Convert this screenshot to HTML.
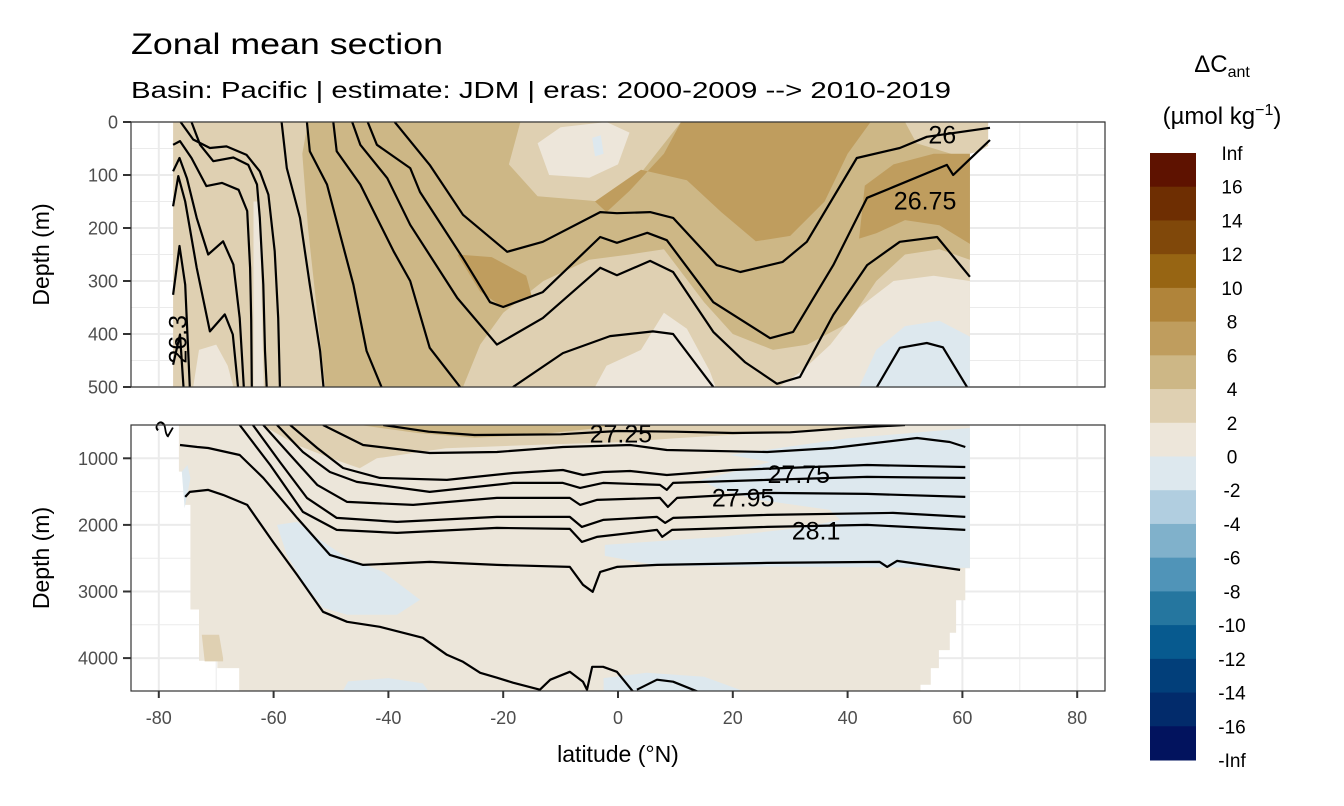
<!DOCTYPE html>
<html><head><meta charset="utf-8"><style>
html,body{margin:0;padding:0;background:#fff;}
svg{display:block;font-family:"Liberation Sans",Arial,sans-serif;}
</style></head><body>
<svg id="chart" width="1344" height="806" viewBox="0 0 1344 806" xmlns="http://www.w3.org/2000/svg">
<defs>
<clipPath id="clipT"><rect x="131" y="122" width="974" height="265"/></clipPath>
<clipPath id="clipB"><rect x="131" y="425" width="974" height="266"/></clipPath>
</defs>
<rect x="0" y="0" width="1344" height="806" fill="#fff"/>
<text x="131" y="54" font-size="30" fill="#000" textLength="312" lengthAdjust="spacingAndGlyphs">Zonal mean section</text>
<text x="131" y="98" font-size="23" fill="#000" textLength="820" lengthAdjust="spacingAndGlyphs">Basin: Pacific | estimate: JDM  | eras: 2000-2009 --&gt; 2010-2019</text>
<g id="panelTop"></g>
<g id="panelBot"></g>
<g id="axes"></g>
<g id="legend"></g>
</svg>
<script>
// ---------- data ----------
const xTicks = [-80,-60,-40,-20,0,20,40,60,80];
const yTicksTop = [0,100,200,300,400,500];
const yTicksBot = [1000,2000,3000,4000];
const legendLabels = ["Inf","16","14","12","10","8","6","4","2","0","-2","-4","-6","-8","-10","-12","-14","-16","-Inf"];
const legendColors = ["#5e1200","#6e2e02","#80480a","#976513","#b0843a","#bf9d5e","#cdb786","#dfd0b2","#ede6da","#dde8ee","#b1cee0","#80b1cb","#5094b8","#25769f","#075a8f","#023f7a","#022b6b","#02135e"];

// fill regions [lat, depth]
const topDomain = [[-77.5,0],[64.5,0],[64.5,45],[63,55],[61.3,60],[61.3,500],[-77.5,500]];
const topFill46 = [[-54,0],[-17,0],[-19,80],[-14,140],[-3,150],[3,110],[11,0],[50,0],[52,40],[58,60],[61.3,80],[61.3,260],[56,240],[50,250],[45,300],[40,380],[33,420],[27,430],[20,400],[15,340],[8,240],[2,250],[-5,260],[-13,300],[-20,360],[-24,420],[-27,500],[-51,500],[-52,400],[-54,200],[-55,60]];
const topFill68a = [[11,0],[44,0],[40,60],[36,150],[30,215],[24,225],[18,170],[12,110],[4,90],[-4,150],[-2,170],[2,130],[8,60]];
const topFill68b = [[43,120],[48,80],[55,60],[61.3,60],[61.3,230],[56,195],[50,185],[45,210],[42,220]];
const topFill68c = [[-28,250],[-22,255],[-16,290],[-15,330],[-20,350],[-24,320]];
const topFill02a = [[-14,40],[-10,10],[-2,0],[2,20],[0,80],[-5,105],[-12,100]];
const topFill02b = [[-4,500],[-2,460],[4,430],[8,360],[12,390],[16,470],[17,500]];
const topFill02c = [[28,500],[32,470],[37,420],[42,350],[48,300],[55,290],[61.3,300],[61.3,500]];
const topFill02d = [[-63.5,150],[-62.5,150],[-61.7,500],[-63.5,500]];
const topFill02e = [[-74,500],[-73,430],[-70,420],[-68,460],[-67,500]];
const topFillNeg = [[42,500],[45,430],[50,385],[56,375],[61.3,405],[61.3,500]];
const topFillNeg2 = [[-4.5,30],[-3,25],[-2.5,60],[-4,65]];

const botDomain = [[-76.5,500],[61.3,500],[61.3,2650],[60.5,2650],[60.5,3130],[58.9,3130],[58.9,3620],[57.8,3620],[57.8,3880],[55.9,3880],[55.9,4150],[54.5,4150],[54.5,4400],[52.7,4400],[52.7,4500],[-66,4500],[-66,4150],[-69.8,4150],[-69.8,4040],[-73,4040],[-73,3270],[-74.5,3270],[-74.5,1700],[-75.5,1700],[-75.5,1200],[-76.5,1200]];
const botFill24 = [[-62,500],[-56,800],[-50,1000],[-45,1150],[-42,1000],[-30,850],[-15,800],[0,760],[10,700],[25,620],[40,560],[50,500]];
const botFill46 = [[-45,500],[-35,620],[-25,690],[-15,650],[-5,560],[0,500]];
const botFill24b = [[-72.5,3650],[-69.5,3650],[-68.8,4000],[-68.8,4050],[-72,4050]];
const botNegA = [[-59.4,2000],[-55.9,1955],[-52.4,2195],[-47.2,2495],[-40.9,2705],[-34.5,3125],[-38.5,3350],[-47.2,3350],[-51.4,3245],[-54.9,2855],[-57.7,2450]];
const botNegB = [[19.5,950],[40,700],[61.3,545],[61.3,2645],[7.3,2615],[-2.3,2465],[-2.3,2300],[17.8,2180],[31.7,2045],[38.7,1925],[36.9,1775],[24.7,1625],[17.8,1475],[14.3,1325],[21.3,1175],[26.5,1055]];
const botNegC = [[-2.5,4300],[5,4220],[15,4280],[22,4500],[-2.5,4500]];
const botNegD = [[-47,4350],[-40,4300],[-34,4380],[-33,4500],[-48,4500]];
const botNegE = [[-76,1200],[-75,1100],[-74.5,1300],[-75.5,1750]];

// contour lines [lat, depth]
const topLines = [
 [[-77.5,458],[-76.3,401],[-75.7,500]],
 [[-77.5,326],[-76.4,234],[-75.4,307],[-74.6,500]],
 [[-77.5,159],[-76.6,102],[-75.4,150],[-73.4,275],[-71.1,395],[-68.5,363],[-67.1,401],[-66.2,500]],
 [[-77.5,93],[-76.4,68],[-75.1,106],[-73.4,181],[-71.4,250],[-68.8,225],[-67.0,269],[-65.9,370],[-65.2,500]],
 [[-77.5,43],[-76.3,36],[-74.3,68],[-71.7,121],[-69.0,115],[-66.1,128],[-64.6,168],[-64.1,275],[-63.9,373],[-63.8,500]],
 [[-74.3,0],[-72.8,43],[-70.5,74],[-67.0,67],[-64.4,81],[-62.9,118],[-62.4,181],[-61.8,307],[-61.5,432],[-61.2,500]],
 [[-76.2,0],[-74.0,33],[-71.1,49],[-68.2,46],[-64.7,62],[-62.4,93],[-60.9,137],[-59.8,244],[-59.2,370],[-58.9,500]],
 [[-58.6,0],[-57.7,87],[-55.4,181],[-53.7,307],[-51.9,432],[-51.3,500]],
 [[-54.2,0],[-53.7,55],[-50.7,118],[-48.4,213],[-46.1,307],[-43.8,432],[-41.2,500]],
 [[-49.6,0],[-49.0,55],[-44.9,118],[-42.0,181],[-39.1,244],[-36.2,300],[-32.8,426],[-27.5,500]],
 [[-46.3,0],[-44.9,43],[-40.2,106],[-36.2,194],[-28,332],[-21.1,420],[-13.1,370],[-3.1,275],[-0.2,289],[5.6,262],[9.6,283],[16.6,396],[22.1,453],[27.7,494],[31.7,481],[37.5,364],[43.4,270],[49.1,226],[55.6,217],[61.3,292]],
 [[-43.6,0],[-42,43],[-36.2,87],[-34.5,132],[-27,257],[-22.3,340],[-20,349],[-13.1,321],[-3.1,217],[-0.2,228],[5.1,209],[8.5,223],[16.6,340],[26.5,408],[30.5,396],[37.5,270],[43.4,143],[47.9,123],[57.3,81],[58.4,100],[61.3,70],[64.8,34]],
 [[-38.9,0],[-32.8,81],[-27,175],[-19.3,245],[-13.1,226],[-3.1,170],[-0.2,172],[5.6,170],[9.6,181],[17.2,270],[21.3,283],[28.7,264],[32.9,226],[41.6,68],[49.1,49],[53.8,28],[64.8,11]],
 [[-18.3,500],[-9.6,436],[-1.4,404],[6.1,395],[9.6,400],[16.6,500]],
 [[45.1,500],[49.1,426],[53.8,417],[56.6,425],[60.8,500]]
];
const botLines = [
 [[-40.9,500],[-33,600],[-25,650],[-10,640],[0,590],[10,600],[20,620],[30,610],[40,545],[50,500]],
 [[-51.4,500],[-44.4,800],[-32.8,920],[-21.1,905],[-9.6,830],[2.1,800],[8.5,875],[26.0,905],[37.5,845],[52.1,695],[57.8,755],[60.5,830]],
 [[-57.1,500],[-52.4,845],[-47.9,1145],[-41.5,1295],[-29.8,1325],[-18.3,1220],[-9.6,1175],[-6.1,1250],[-2.6,1205],[2.1,1190],[8.5,1250],[20.0,1175],[43.4,1100],[60.5,1130]],
 [[-59.4,500],[-54.9,905],[-50.2,1205],[-45.5,1355],[-32.8,1505],[-18.3,1370],[-9.6,1370],[-6.6,1445],[-2.6,1370],[7.3,1400],[8.5,1475],[9.6,1370],[26.0,1325],[43.4,1280],[60.5,1295]],
 [[-61.8,500],[-57.1,950],[-52.4,1400],[-47.2,1655],[-35.7,1700],[-21.1,1595],[-8.4,1595],[-6.6,1700],[-3.7,1625],[7.3,1595],[8.7,1730],[10.3,1595],[26.0,1520],[43.4,1535],[60.5,1580]],
 [[-63.6,500],[-58.9,1055],[-54.2,1595],[-49.0,1895],[-38.5,1955],[-21.1,1880],[-8.4,1880],[-6.3,2030],[-2.6,1925],[6.8,1880],[8.2,1970],[9.6,1895],[26.0,1850],[47.9,1820],[60.5,1880]],
 [[-65.9,500],[-60.6,1100],[-54.9,1805],[-49.0,2075],[-38.5,2120],[-21.1,2045],[-8.4,2060],[-6.3,2255],[-3.7,2180],[6.8,2075],[7.7,2180],[9.4,2075],[26.0,2030],[43.4,2000],[60.5,2075]],
 [[-76.3,800],[-73.3,830],[-71.4,845],[-65.9,950],[-61.8,1295],[-55.9,1895],[-50.2,2450],[-44.4,2600],[-32.8,2555],[-21.1,2600],[-8.4,2630],[-6.1,2900],[-4.4,3005],[-3.1,2705],[-0.2,2630],[6.8,2600],[26.0,2570],[45.6,2555],[46.9,2630],[48.6,2540],[59.6,2675]],
 [[-75.4,1580],[-74.6,1505],[-71.4,1475],[-68.8,1550],[-64.6,1700],[-60.1,2255],[-55.9,2750],[-51.4,3305],[-47.2,3455],[-41.5,3530],[-34.0,3695],[-29.8,3950],[-27.0,4055],[-24.0,4220],[-21.1,4295],[-18.3,4370],[-13.6,4475],[-11.8,4325],[-8.4,4205],[-6.1,4355],[-5.4,4475],[-4.5,4130],[-2.6,4130],[-0.2,4205],[2.6,4500]],
 [[3.3,4475],[6.8,4325],[9.6,4355],[13.8,4500]]
];
const contourLabels = [
 {t:"26", lat:56.5, d:25, p:"top", r:0},
 {t:"26.75", lat:53.5, d:150, p:"top", r:0},
 {t:"26.3", lat:-76.6, d:410, p:"top", r:-90},
 {t:"27.25", lat:0.5, d:640, p:"bot", r:0},
 {t:"27.75", lat:31.5, d:1250, p:"bot", r:0},
 {t:"27.95", lat:21.8, d:1600, p:"bot", r:0},
 {t:"28.1", lat:34.5, d:2100, p:"bot", r:0},
 {t:"2", lat:-79, d:560, p:"bot", r:-60}
];

// ---------- scales ----------
const X0=131, X1=1105, TT=122, TB=387, BT=425, BB=691;
function xS(lat){return 618+5.74*lat;}
function yT(d){return TT+(TB-TT)*d/500;}
function yB(d){return BT+(d-500)*(458.3-BT)/500;}
const NS="http://www.w3.org/2000/svg";
function mk(tag,attrs,parent){const e=document.createElementNS(NS,tag);for(const k in attrs)e.setAttribute(k,attrs[k]);parent.appendChild(e);return e;}
function pts(arr,ys){return arr.map(p=>xS(p[0]).toFixed(1)+","+ys(p[1]).toFixed(1)).join(" ");}

const pT=document.getElementById('panelTop'), pB=document.getElementById('panelBot'), ax=document.getElementById('axes'), lg=document.getElementById('legend');

function panelBase(g,y0,y1,majorsY,minorsY,ys){
  const bg=mk('rect',{x:X0,y:y0,width:X1-X0,height:y1-y0,fill:'#fff'},g);
  
  
  for(let l=-90;l<=90;l+=10){const x=xS(l);if(x<X0||x>X1)continue;const major=(l%20===0);
    const ln=mk('line',{x1:x,x2:x,y1:y0,y2:y1,stroke:'#ebebeb','stroke-width':major?2:1},g);
    
    }
  majorsY.forEach(d=>{const y=ys(d);const ln=mk('line',{x1:X0,x2:X1,y1:y,y2:y,stroke:'#ebebeb','stroke-width':2},g);
    
    });
  minorsY.forEach(d=>{const y=ys(d);const ln=mk('line',{x1:X0,x2:X1,y1:y,y2:y,stroke:'#ebebeb','stroke-width':1},g);
    
    });
}
panelBase(pT,TT,TB,yTicksTop,[50,150,250,350,450],yT);
panelBase(pB,BT,BB,yTicksBot,[1500,2500,3500],yB);

function fill(g,arr,ys,color,name,clip){const p=mk('polygon',{points:pts(arr,ys),fill:color,'clip-path':clip},g);
  
  }
const cT='url(#clipT)', cB='url(#clipB)';
fill(pT,topDomain,yT,'#dfd0b2','fill-2-4',cT);
fill(pT,topFill46,yT,'#cdb786','fill-4-6',cT);
fill(pT,topFill68a,yT,'#bf9d5e','fill-6-8',cT);
fill(pT,topFill68b,yT,'#bf9d5e','fill-6-8',cT);
fill(pT,topFill68c,yT,'#bf9d5e','fill-6-8',cT);
fill(pT,topFill02a,yT,'#ede6da','fill-0-2',cT);
fill(pT,topFill02b,yT,'#ede6da','fill-0-2',cT);
fill(pT,topFill02c,yT,'#ede6da','fill-0-2',cT);
fill(pT,topFill02d,yT,'#ede6da','fill-0-2',cT);
fill(pT,topFill02e,yT,'#ede6da','fill-0-2',cT);
fill(pT,topFillNeg,yT,'#dde8ee','fill-neg-0-2',cT);
fill(pT,topFillNeg2,yT,'#dde8ee','fill-neg-0-2',cT);

fill(pB,botDomain,yB,'#ece6da','fill-0-2',cB);
fill(pB,botFill24,yB,'#dfd0b2','fill-2-4',cB);
fill(pB,botFill46,yB,'#cdb786','fill-4-6',cB);
fill(pB,botFill24b,yB,'#dfd0b2','fill-2-4',cB);
fill(pB,botNegA,yB,'#dde8ee','fill-neg-0-2',cB);
fill(pB,botNegB,yB,'#dde8ee','fill-neg-0-2',cB);
fill(pB,botNegC,yB,'#dde8ee','fill-neg-0-2',cB);
fill(pB,botNegD,yB,'#dde8ee','fill-neg-0-2',cB);
fill(pB,botNegE,yB,'#dde8ee','fill-neg-0-2',cB);

function lines(g,arrs,ys,clip){arrs.forEach(a=>{const l=mk('polyline',{points:pts(a,ys),fill:'none',stroke:'#000','stroke-width':2.2,'stroke-linejoin':'round','clip-path':clip},g);
  
  });}
lines(pT,topLines,yT,cT);
lines(pB,botLines,yB,cB);

contourLabels.forEach(c=>{const ys=c.p==='top'?yT:yB;const x=xS(c.lat),y=ys(c.d);
  const t=mk('text',{x:x,y:y,'font-size':c.t.length<2?24:25,fill:'#000','text-anchor':'middle','dominant-baseline':'central',transform:'rotate('+c.r+' '+x+' '+y+')'},c.p==='top'?pT:pB);
  t.textContent=c.t;
  
  });

// borders
[[TT,TB],[BT,BB]].forEach(r=>{const b=mk('rect',{x:X0,y:r[0],width:X1-X0,height:r[1]-r[0],fill:'none',stroke:'#333','stroke-width':1.2},ax);
  
  });

// y ticks
function yAxis(ticks,ys){ticks.forEach(d=>{const y=ys(d);
  const tk=mk('line',{x1:123,x2:131,y1:y,y2:y,stroke:'#333','stroke-width':2},ax);
  
  
  const t=mk('text',{x:118,y:y+6.5,'font-size':18,fill:'#4d4d4d','text-anchor':'end'},ax);
  t.textContent=String(d);
  
  });}
yAxis(yTicksTop,yT);yAxis(yTicksBot,yB);
xTicks.forEach(l=>{const x=xS(l);
  const tk=mk('line',{x1:x,x2:x,y1:BB,y2:BB+7,stroke:'#333','stroke-width':2},ax);
  
  
  const t=mk('text',{x:x,y:724,'font-size':18,fill:'#4d4d4d','text-anchor':'middle'},ax);
  t.textContent=String(l);
  
  });
[[(TT+TB)/2],[(BT+BB)/2]].forEach(r=>{const y=r[0];
  const t=mk('text',{x:49,y:y,'font-size':23,fill:'#000','text-anchor':'middle',transform:'rotate(-90 49 '+y+')'},ax);
  t.textContent='Depth (m)';
  
  });
const xt=mk('text',{x:618,y:762,'font-size':23,fill:'#000','text-anchor':'middle'},ax);
xt.textContent='latitude (°N)';



// legend
const LT=153, LBm=760, bh=(LBm-LT)/legendColors.length;
const t1=mk('text',{x:1222,y:72,'font-size':24,fill:'#000','text-anchor':'middle'},lg);
t1.innerHTML='ΔC<tspan font-size="16" dy="5">ant</tspan>';


const t2=mk('text',{x:1222,y:124,'font-size':24,fill:'#000','text-anchor':'middle'},lg);
t2.innerHTML='(µmol kg<tspan font-size="16" dy="-9">−1</tspan><tspan dy="9">)</tspan>';


legendColors.forEach((c,i)=>{const r=mk('rect',{x:1150,y:LT+i*bh,width:46,height:bh+0.5,fill:c},lg);
  
  });
legendLabels.forEach((s,i)=>{const t=mk('text',{x:1232,y:LT+i*bh+7,'font-size':19,fill:'#000','text-anchor':'middle'},lg);
  t.textContent=s;
  
  });
</script>
</body></html>
